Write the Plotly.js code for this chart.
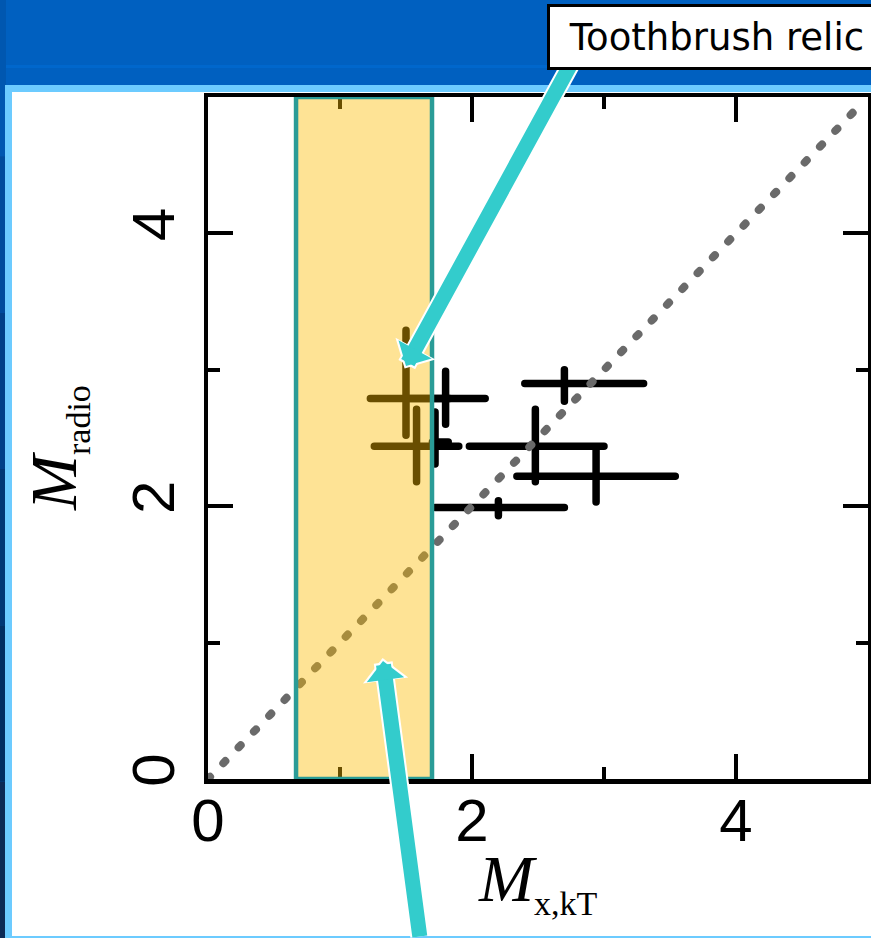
<!DOCTYPE html>
<html><head><meta charset="utf-8">
<script src="https://cdn.plot.ly/plotly-3.0.1.min.js"></script>
<style>
html,body{margin:0;padding:0;background:#0060C0;overflow:hidden;}
#chart{width:871px;height:938px;}
.js-plotly-plot .errorbar path{stroke-linecap:round !important;}
.js-plotly-plot .scatterlayer .trace:nth-child(2) .js-line{stroke-linecap:round !important;}
</style>
</head><body>
<div id="chart"></div>
<script>
// ---- data ----
const machX     = [1.50, 1.80, 1.58, 1.72, 2.70, 2.48, 2.94, 2.20];   // M_x,kT
const machXLow  = [1.23, 1.52, 1.26, 1.70, 2.40, 1.98, 2.34, 1.72];
const machXHigh = [1.83, 2.10, 1.90, 1.82, 3.30, 3.00, 3.54, 2.70];
const machR     = [2.79, 2.79, 2.44, 2.47, 2.90, 2.44, 2.22, 1.99];   // M_radio
const machRLow  = [2.52, 2.60, 2.18, 2.31, 2.77, 2.18, 2.03, 1.93];
const machRHigh = [3.29, 2.99, 2.71, 2.69, 3.00, 2.71, 2.42, 2.04];
const equalityLine = [0, 4.9];
const toothbrushBand = [0.667, 1.697];   // M_x,kT range of the Toothbrush relic
const axisRange = [0, 5];
const xTickVals = [0, 2, 4];
const yTickVals = [0, 2, 4];
const labelText = 'Toothbrush relic';
const xTitle = '<i>M</i><sub><span style="font-size:34px">x,kT</span></sub>';
const yTitle = '<i>M</i><sub><span style="font-size:34px">radio</span></sub>';

// ---- layout geometry ----
const W = 871, H = 938, L = 208, R = 3, T = 97, B = 159;
const PW = W - L - R, PH = H - T - B;
const px = v => (v - L) / PW;
const py = v => (T + PH - v) / PH;

const errPlus  = (c, hi) => hi.map((h, i) => h - c[i]);
const errMinus = (c, lo) => lo.map((l, i) => c[i] - l);

const traces = [
  {
    type: 'scatter', mode: 'markers',
    x: machX, y: machR,
    marker: {size: 1, opacity: 0},
    error_x: {type: 'data', symmetric: false, array: errPlus(machX, machXHigh), arrayminus: errMinus(machX, machXLow),
              thickness: 7.5, width: 0, color: '#000000'},
    error_y: {type: 'data', symmetric: false, array: errPlus(machR, machRHigh), arrayminus: errMinus(machR, machRLow),
              thickness: 7.5, width: 0, color: '#000000'},
    hoverinfo: 'skip', showlegend: false
  },
  {
    type: 'scatter', mode: 'lines',
    x: equalityLine, y: equalityLine,
    line: {color: '#6a6a6a', width: 8, dash: '3px,19px'},
    hoverinfo: 'skip', showlegend: false
  }
];

const tickFont = {family: 'Liberation Sans, Arial, sans-serif', size: 60, color: '#000'};
const titleFont = {family: 'Liberation Serif, Times New Roman, serif', size: 66, color: '#000'};

const axisCommon = {
  range: axisRange, tickmode: 'array',
  ticks: 'inside', ticklen: 25, tickwidth: 4, tickcolor: '#000',
  showline: true, linewidth: 4.5, linecolor: '#000', mirror: 'ticks',
  showgrid: false, zeroline: false, fixedrange: true,
  tickfont: tickFont,
  minor: {dtick: 1, tick0: 0, ticks: 'inside', ticklen: 12, tickwidth: 4, tickcolor: '#000', showgrid: false}
};

const shapes = [];
// left dark strip (gradient approximated)
const stripCols = ['#0057b0', '#004c9c', '#004188', '#003774', '#002f62', '#0b2a55'];
for (let i = 0; i < stripCols.length; i++) {
  const y0 = i * H / stripCols.length, y1 = (i + 1) * H / stripCols.length;
  shapes.push({type: 'rect', xref: 'paper', yref: 'paper', layer: 'below',
    x0: px(0), x1: px(6), y0: py(y1), y1: py(y0), fillcolor: stripCols[i], line: {width: 0}});
}
// top band highlight
shapes.push({type: 'rect', xref: 'paper', yref: 'paper', layer: 'below',
  x0: px(6), x1: px(W + 10), y0: py(68), y1: py(65), fillcolor: '#0067cc', line: {width: 0}});
// white panel with light blue border
shapes.push({type: 'rect', xref: 'paper', yref: 'paper', layer: 'below',
  x0: px(8.5), x1: px(W + 20), y0: py(939.5), y1: py(88.5),
  fillcolor: '#ffffff', line: {color: '#6ccbff', width: 7}});
// Toothbrush band overlay
shapes.push({type: 'rect', xref: 'x', yref: 'y', layer: 'above',
  x0: toothbrushBand[0], x1: toothbrushBand[1], y0: axisRange[0], y1: axisRange[1],
  fillcolor: 'rgba(253,188,0,0.415)', line: {color: '#2a9c97', width: 4.5}});

// arrows
const cyan = '#33cccc';
function arrow(tip, tail, w, hs) {
  return {xref: 'paper', yref: 'paper', x: px(tip[0]), y: py(tip[1]),
    axref: 'pixel', ayref: 'pixel', ax: tail[0] - tip[0], ay: tail[1] - tip[1],
    text: '', showarrow: true, arrowhead: 1, arrowwidth: w, arrowsize: hs,
    standoff: 0, startstandoff: 0};
}
const a1 = Object.assign(arrow([404.6, 368.6], [572, 62], 19, 0.40), {arrowcolor: '#ffffff'});
const a1c = Object.assign(arrow([406, 366], [572, 62], 15, 0.42), {arrowcolor: cyan});
const box = {xref: 'paper', yref: 'paper', x: px(547), y: py(4), xanchor: 'left', yanchor: 'top',
  text: '&nbsp;' + labelText, showarrow: false, align: 'left', valign: 'middle',
  width: 400, height: 44, borderpad: 8, borderwidth: 3, bordercolor: '#000', bgcolor: '#ffffff',
  font: {family: 'DejaVu Sans, Verdana, sans-serif', size: 37, color: '#000'}};
const a2 = Object.assign(arrow([382.6, 658], [420, 965], 19, 0.40), {arrowcolor: '#ffffff'});
const a2c = Object.assign(arrow([383, 661], [420, 965], 15, 0.42), {arrowcolor: cyan});
const yTitleAnn = {xref: 'paper', yref: 'paper', x: px(57), y: py(448), xanchor: 'center', yanchor: 'middle',
  text: yTitle, textangle: -90, showarrow: false, font: titleFont};
const xTitleAnn = {xref: 'paper', yref: 'paper', x: px(537), y: py(882), xanchor: 'center', yanchor: 'middle',
  text: xTitle, showarrow: false, font: titleFont};

const layout = {
  width: W, height: H,
  margin: {l: L, r: R, t: T, b: B, pad: 0},
  paper_bgcolor: '#0060c0', plot_bgcolor: 'rgba(0,0,0,0)',
  showlegend: false,
  xaxis: Object.assign({}, axisCommon, {
    tickvals: xTickVals, ticktext: xTickVals.map(String), ticklabelstandoff: -15
  }),
  yaxis: Object.assign({}, axisCommon, {
    tickvals: yTickVals, ticktext: yTickVals.map(String), tickangle: -90, ticklabelstandoff: 6
  }),
  shapes: shapes,
  annotations: [a1, a1c, box, a2, a2c, yTitleAnn, xTitleAnn]
};

Plotly.newPlot('chart', traces, layout, {displayModeBar: false, staticPlot: true});
</script>
</body></html>
